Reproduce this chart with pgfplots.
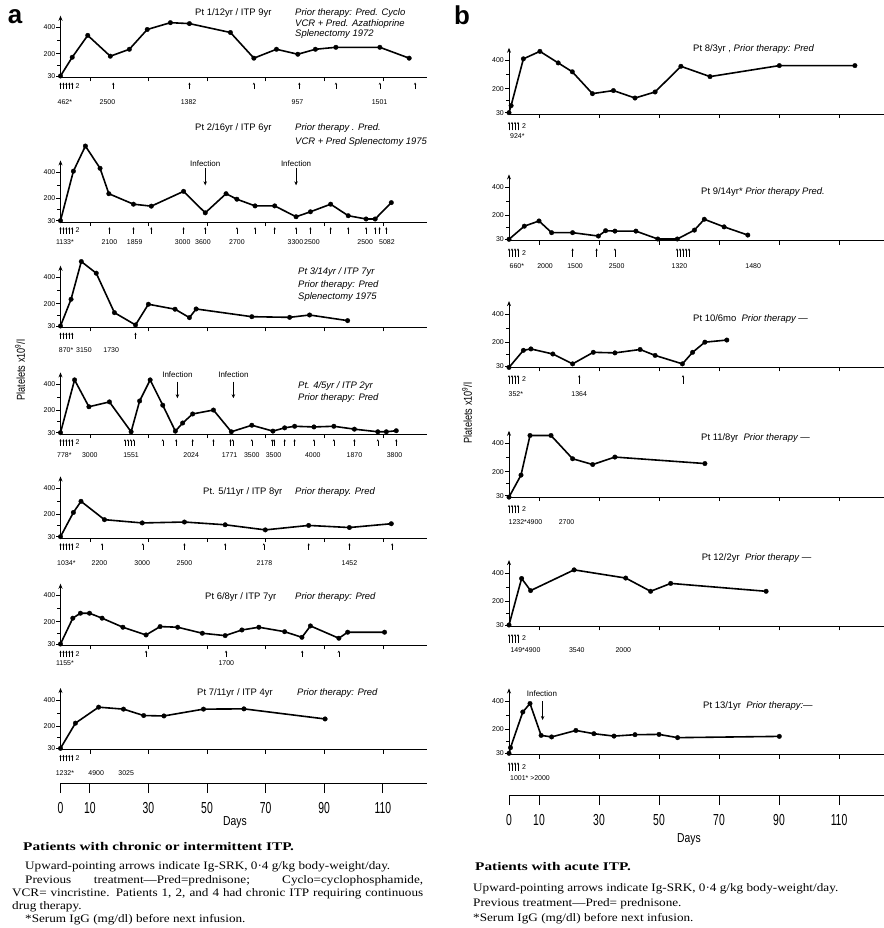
\documentclass[border=0pt]{standalone}
\usepackage{fontspec}
\usepackage{pgfplots}
\pgfplotsset{compat=1.18}
\usetikzlibrary{arrows.meta}
\setmainfont{Liberation Serif}
\newfontfamily\capf[FakeStretch=1.15]{Liberation Serif}
\newfontfamily\capb[FakeStretch=1.3]{Liberation Serif}
\newfontfamily\cond[FakeStretch=0.8]{Liberation Sans}
\newfontfamily\condd[FakeStretch=0.65]{Liberation Sans}
\newfontfamily\sans{Liberation Sans}

\pgfplotsset{
 /pgf/number format/assume math mode=true,
 panel/.style={clip=false, anchor=south west, xmin=0, xmax=125, ymin=20, ymax=490,
   axis x line*=bottom, axis y line*=left,
   x axis line style={-, line width=0.7bp},
   y axis line style={-{Stealth[length=5bp,width=4bp]}, line width=0.7bp},
   xtick={10,30,50,70,90,110}, xticklabels={},
   ytick={30,200,400}, minor ytick={115,300},
   tick align=outside, major tick length=4bp, minor tick length=3bp,
   tick style={black, line width=0.6bp},
   yticklabel style={font=\sans\fontsize{7}{8}\selectfont, inner sep=1bp},
 },
 pa/.style={panel, x=2.93bp, y=0.131bp},
 pb/.style={panel, x=3bp, y=0.141bp},
 dat/.style={black, line width=1.6bp, mark=*, mark size=2.3bp, mark options={solid, line width=0.3bp}},
 upa/.style={black, line width=0.5bp, quiver={u=0,v=50}, -{Stealth[length=2.2bp,width=2.2bp]}, mark=none},
 upb/.style={black, line width=0.5bp, quiver={u=0,v=60}, -{Stealth[length=2.2bp,width=2.2bp]}, mark=none},
 bot/.style={clip=false, anchor=south west, xmin=0, xmax=125, ymin=0, ymax=1, y=1bp,
   axis x line*=bottom, hide y axis, xtick={0,10,30,50,70,90,110},
   tick align=outside, major tick length=10bp,
   x axis line style={-, line width=0.8bp}, tick style={black, line width=0.8bp},
   xticklabel style={font=\condd\fontsize{16}{16}\selectfont, yshift=-6bp}},
}
\tikzset{
 lab/.style={font=\sans\fontsize{7}{8}\selectfont, inner sep=0pt},
 ttl/.style={anchor=west, font=\sans\fontsize{9.5}{10}\selectfont, inner sep=0pt},
 itl/.style={anchor=west, font=\sans\itshape\fontsize{9.5}{10}\selectfont, inner sep=0pt},
 inf/.style={font=\sans\fontsize{8}{9}\selectfont, inner sep=0pt},
 captxt/.style={anchor=west, font=\capf\fontsize{11.5}{12}\selectfont, inner sep=0pt},
 capbold/.style={anchor=west, font=\capb\bfseries\fontsize{11.8}{12}\selectfont, inner sep=0pt},
}
\newcommand{\lb}[3]{\node[lab] at (axis cs:#1,#2) {#3};}
\newcommand{\upsa}[1]{\addplot[upa] table[row sep=\\, y expr=-70] {x\\#1};}
\newcommand{\upsb}[1]{\addplot[upb] table[row sep=\\, y expr=-95] {x\\#1};}
\newcommand{\infa}[2]{\node[inf] at (axis cs:#1,#2) {Infection};}

\begin{document}
\begin{tikzpicture}
\useasboundingbox (0bp,0bp) rectangle (884bp,-928bp);

% ---------- Panel a ----------
% P1
\begin{axis}[pa, at={(60.5bp,-77.3bp)}]
\addplot[dat] coordinates {(0,30) (4,173) (9.3,340) (17,181) (23.5,234) (29.6,385) (37.5,437) (44,430) (58,362) (66,166) (73.7,234) (81,196) (87,234) (94,249) (109,249) (119,166)};
\upsa{0\\1\\2\\3\\4\\18\\44\\66\\81.5\\94\\109\\121\\}
\lb{5.8}{-45}{2}
\lb{1.5}{-166}{462*} \lb{16}{-166}{2500} \lb{43.7}{-166}{1382} \lb{80.9}{-166}{957} \lb{108.9}{-166}{1501}
\end{axis}
% P2
\begin{axis}[pa, at={(60.5bp,-222bp)}]
\addplot[dat] coordinates {(0,30) (4.4,408) (8.5,600) (13.5,430) (16.5,236) (24.9,156) (31,141) (42,254) (49.4,90) (56.5,236) (60.2,194) (66.4,143) (73.1,143) (80.4,60) (85.3,98) (92.2,156) (98.2,68) (104.3,43) (107.4,43) (112.9,168)};
\upsa{0\\1\\2\\3\\4\\16.7\\24.9\\31\\42\\49.4\\60.2\\66.4\\73.1\\80.4\\85.3\\92.2\\98.2\\104.3\\107.4\\108.9\\111.2\\}
\lb{5.8}{-45}{2}
\lb{1.5}{-130}{1133*} \lb{16.7}{-130}{2100} \lb{25.3}{-130}{1859} \lb{41.7}{-130}{3000} \lb{48.6}{-130}{3600} \lb{60.2}{-130}{2700} \lb{80.2}{-130}{3300} \lb{85.8}{-130}{2500} \lb{104}{-130}{2500} \lb{111.4}{-130}{5082}
\infa{49.4}{468} \draw[-{Stealth[length=4bp,width=3.5bp]}, line width=0.7bp] (axis cs:49.4,430) -- (axis cs:49.4,300);
\infa{80.4}{468} \draw[-{Stealth[length=4bp,width=3.5bp]}, line width=0.7bp] (axis cs:80.4,430) -- (axis cs:80.4,300);
\end{axis}
% P3
\begin{axis}[pa, at={(60.5bp,-327.3bp)}]
\addplot[dat] coordinates {(0,30) (3.6,234) (7.1,522) (12.2,433) (18.4,132) (25.6,38) (30,196) (39.1,158) (44,94) (46.3,160) (65.3,101) (78.2,96) (85,114) (98,71)};
\upsa{0\\1\\2\\3\\4\\25.6\\}
\lb{1.9}{-153}{870*} \lb{8}{-153}{3150} \lb{17.3}{-153}{1730}
\end{axis}
% P4
\begin{axis}[pa, at={(60.5bp,-434bp)}]
\addplot[dat] coordinates {(0,30) (4.8,433) (9.7,228) (16.7,265) (24.1,37) (27,272) (30.6,433) (34.9,240) (39.2,42) (41.7,104) (45.1,173) (52.2,203) (58.3,37) (65.3,87) (72.5,42) (76.5,67) (79.9,79) (86.5,74) (93.3,79) (100.3,57) (108.3,37) (111.2,37) (114.6,45)};
\upsa{0\\1\\2\\3\\4\\22\\23\\24\\25\\34.9\\39.5\\45.1\\52.2\\58\\58.8\\65.3\\72.2\\72.9\\76.5\\79.9\\86.5\\93.3\\100.3\\108.3\\114.6\\}
\lb{5.8}{-45}{2}
\lb{1.3}{-140}{778*} \lb{10}{-140}{3000} \lb{24.1}{-140}{1551} \lb{44.6}{-140}{2024} \lb{57.7}{-140}{1771} \lb{65.3}{-140}{3500} \lb{72.7}{-140}{3500} \lb{86.1}{-140}{4000} \lb{100.3}{-140}{1870} \lb{114}{-140}{3800}
\infa{39.9}{470} \draw[-{Stealth[length=4bp,width=3.5bp]}, line width=0.7bp] (axis cs:39.9,420) -- (axis cs:39.9,293);
\infa{59}{470} \draw[-{Stealth[length=4bp,width=3.5bp]}, line width=0.7bp] (axis cs:59,420) -- (axis cs:59,293);
\end{axis}
% P5
\begin{axis}[pa, at={(60.5bp,-538bp)}]
\addplot[dat] coordinates {(0,30) (4.4,215) (7,300) (15,160) (27.9,135) (42.3,142) (56.2,121) (69.9,82) (84.7,116) (98.6,100) (112.9,129)};
\upsa{0\\1\\2\\3\\4\\14.2\\28.1\\42.3\\56.2\\69.4\\84.7\\98.6\\113.2\\}
\lb{5.8}{-45}{2}
\lb{2}{-168}{1034*} \lb{13.3}{-168}{2200} \lb{27.9}{-168}{3000} \lb{42.3}{-168}{2500} \lb{69.6}{-168}{2178} \lb{98.6}{-168}{1452}
\end{axis}
% P6
\begin{axis}[pa, at={(60.5bp,-645.3bp)}]
\addplot[dat] coordinates {(0,30) (4.2,227) (6.8,265) (9.9,265) (14.2,227) (21.3,158) (29.2,99) (34,163) (40,158) (48.4,112) (56.2,94) (61.9,137) (67.7,158) (76.5,124) (82.4,81) (85.3,168) (95,74) (98,120) (110.6,120)};
\upsa{0\\1\\2\\3\\4\\29.2\\56.5\\82.5\\95\\}
\lb{5.8}{-45}{2}
\lb{1.5}{-118}{1155*} \lb{56.6}{-118}{1700}
\end{axis}
% P7
\begin{axis}[pa, at={(60.5bp,-749.6bp)}]
\addplot[dat] coordinates {(0,30) (5.1,222) (13,344) (21.5,329) (28.4,280) (35.3,277) (48.8,329) (62.6,331) (90.3,254)};
\upsa{0\\1\\2\\3\\4\\}
\lb{5.8}{-45}{2}
\lb{1.5}{-156}{1232*} \lb{12.2}{-156}{4900} \lb{22.4}{-156}{3025}
\end{axis}
% Days a
\begin{axis}[bot, at={(60.5bp,-783bp)}, x=2.93bp]
\addplot[draw=none] coordinates {(0,0)};
\end{axis}

% ---------- Panel b ----------
% P8
\begin{axis}[pb, at={(509bp,-114.1bp)}]
\addplot[dat] coordinates {(0,30) (0.7,80) (4.8,412) (10.3,465) (16.4,383) (21.1,320) (27.8,165) (34.8,187) (42,134) (48.7,177) (57.3,359) (67,286) (90.1,364) (115.3,364)};
\upsb{0\\1\\2\\3\\}
\lb{5}{-65}{2}
\lb{2.8}{-135}{924*}
\end{axis}
% P9
\begin{axis}[pb, at={(509bp,-240.7bp)}]
\addplot[dat] coordinates {(0,30) (5.1,123) (10,160) (14.2,77) (21.2,77) (29.8,53) (32.2,91) (35.3,88) (42.3,88) (49.6,32) (56.1,32) (61.8,95) (65.1,172) (71.7,118) (79.6,60)};
\upsb{0\\1\\2\\3\\21.2\\29.2\\35.3\\56\\57\\58\\59\\60\\}
\lb{5}{-65}{2}
\lb{2.6}{-159}{660*} \lb{12}{-159}{2000} \lb{22}{-159}{1500} \lb{35.9}{-159}{2500} \lb{56.8}{-159}{1320} \lb{81.4}{-159}{1480}
\end{axis}
% P10
\begin{axis}[pb, at={(509bp,-367.4bp)}]
\addplot[dat] coordinates {(0,20) (4.8,141) (7.3,151) (14.6,115) (21.2,45) (28.1,127) (35.3,123) (43.7,147) (48.7,105) (57.8,45) (61.2,127) (65.3,199) (72.6,214)};
\upsb{0\\1\\2\\3\\23.4\\58\\}
\lb{5}{-65}{2}
\lb{2.3}{-168}{352*} \lb{23.4}{-168}{1364}
\end{axis}
% P11
\begin{axis}[pb, at={(509bp,-497.1bp)}]
\addplot[dat] coordinates {(0,20) (4,176) (7,457) (14,457) (21.2,292) (27.9,251) (35.3,304) (65.3,258)};
\upsb{0\\1\\2\\3\\}
\lb{5}{-65}{2}
\lb{5.5}{-154}{1232*4900} \lb{19.2}{-154}{2700}
\end{axis}
% P12
\begin{axis}[pb, at={(509bp,-626.4bp)}]
\addplot[dat] coordinates {(0,30) (4.2,360) (7.2,274) (21.7,421) (38.9,363) (47.2,269) (53.9,325) (85.7,269)};
\upsb{0\\1\\2\\3\\}
\lb{5}{-65}{2}
\lb{5.5}{-147}{149*4900} \lb{22.6}{-147}{3540} \lb{38.1}{-147}{2000}
\end{axis}
% P13
\begin{axis}[pb, at={(509bp,-754.7bp)}]
\addplot[dat] coordinates {(0,30) (0.5,70) (4.6,323) (7,383) (10.7,157) (14.2,146) (22.3,192) (28.3,169) (35,152) (42,162) (50,164) (56.2,141) (90.1,150)};
\upsb{0\\1\\2\\3\\}
\lb{5}{-65}{2}
\lb{7}{-147}{1001* >2000}
\infa{11}{455} \draw[-{Stealth[length=4bp,width=3.5bp]}, line width=0.7bp] (axis cs:11.2,400) -- (axis cs:11.2,266);
\end{axis}
% Days b
\begin{axis}[bot, at={(509bp,-795bp)}, x=3bp]
\addplot[draw=none] coordinates {(0,0)};
\end{axis}

% ---------- texts ----------
\node[font=\sans\bfseries\fontsize{26}{26}\selectfont, inner sep=0pt] at (15bp,-17bp) {a};
\node[font=\sans\bfseries\fontsize{26}{26}\selectfont, inner sep=0pt] at (462bp,-15bp) {b};
\node[rotate=90, font=\cond\fontsize{11.5}{11}\selectfont, inner sep=0pt] at (20bp,-370bp) {Platelets x10\textsuperscript{9}/l};
\node[rotate=90, font=\cond\fontsize{11.5}{11}\selectfont, inner sep=0pt] at (467bp,-413bp) {Platelets x10\textsuperscript{9}/l};

\node[ttl] at (195bp,-13.3bp) {Pt 1/12yr / ITP 9yr};
\node[itl] at (295bp,-13.3bp) {Prior therapy: Pred. Cyclo};
\node[itl] at (295bp,-24bp) {VCR + Pred. Azathioprine};
\node[itl] at (295bp,-34bp) {Splenectomy 1972};
\node[ttl] at (195bp,-128bp) {Pt 2/16yr / ITP 6yr};
\node[itl] at (295bp,-128bp) {Prior therapy . Pred.};
\node[itl] at (295bp,-142bp) {VCR + Pred Splenectomy 1975};
\node[itl] at (298bp,-272bp) {Pt 3/14yr / ITP 7yr};
\node[itl] at (298bp,-285bp) {Prior therapy: Pred};
\node[itl] at (298bp,-297.5bp) {Splenectomy 1975};
\node[itl] at (298bp,-386bp) {Pt. 4/5yr / ITP 2yr};
\node[itl] at (298bp,-398bp) {Prior therapy: Pred};
\node[ttl] at (203bp,-491.7bp) {Pt. 5/11yr / ITP 8yr};
\node[itl] at (295bp,-491.7bp) {Prior therapy. Pred};
\node[ttl] at (205bp,-597.3bp) {Pt 6/8yr / ITP 7yr};
\node[itl] at (295bp,-597.3bp) {Prior therapy: Pred};
\node[ttl] at (197bp,-692.7bp) {Pt 7/11yr / ITP 4yr};
\node[itl] at (297bp,-692.7bp) {Prior therapy: Pred};

\node[ttl] at (693bp,-49.3bp) {Pt 8/3yr , \textit{Prior therapy: Pred}};
\node[ttl] at (701bp,-192.3bp) {Pt 9/14yr* \textit{Prior therapy Pred.}};
\node[ttl] at (693bp,-319bp) {Pt 10/6mo\ \ \textit{Prior therapy —}};
\node[ttl] at (701bp,-437.7bp) {Pt 11/8yr\ \ \textit{Prior therapy —}};
\node[ttl] at (701.7bp,-558.3bp) {Pt 12/2yr\ \ \textit{Prior therapy —}};
\node[ttl] at (703bp,-706bp) {Pt 13/1yr\ \ \textit{Prior therapy:—}};

\node[font=\cond\fontsize{13}{13}\selectfont, inner sep=0pt] at (235bp,-822bp) {Days};
\node[font=\cond\fontsize{13}{13}\selectfont, inner sep=0pt] at (689bp,-839bp) {Days};

\node[capbold] at (23bp,-846.7bp) {Patients with chronic or intermittent ITP.};
\node[captxt] at (25bp,-867bp) {Upward-pointing arrows indicate Ig-SRK, 0·4 g/kg body-weight/day.};
\node[captxt] at (25bp,-880.7bp) {\makebox[398bp][s]{Previous treatment—Pred=prednisone; Cyclo=cyclophosphamide,}};
\node[captxt] at (12bp,-894bp) {\makebox[411bp][s]{VCR= vincristine. Patients 1, 2, and 4 had chronic ITP requiring continuous}};
\node[captxt] at (12bp,-906.7bp) {drug therapy.};
\node[captxt] at (25bp,-920bp) {*Serum IgG (mg/dl) before next infusion.};

\node[capbold] at (475bp,-866.7bp) {Patients with acute ITP.};
\node[captxt] at (473bp,-888.3bp) {Upward-pointing arrows indicate Ig-SRK, 0·4 g/kg body-weight/day.};
\node[captxt] at (473bp,-904bp) {Previous treatment—Pred= prednisone.};
\node[captxt] at (473bp,-918.3bp) {*Serum IgG (mg/dl) before next infusion.};
\end{tikzpicture}
\end{document}
